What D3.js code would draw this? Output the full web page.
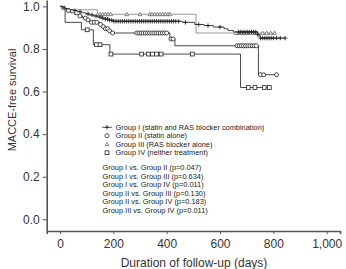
<!DOCTYPE html>
<html>
<head>
<meta charset="utf-8">
<script src="https://cdn.jsdelivr.net/npm/d3@7"></script>
<style>
  body { margin: 0; background: #fff; }
  svg { display: block; font-family: "Liberation Sans", Arial, sans-serif; }
</style>
</head>
<body>
<div id="chart"></div>
<script>
// 軸の目盛り
const xTicks = [0, 200, 400, 600, 800, 1000];
const yTicks = [0, 0.2, 0.4, 0.6, 0.8, 1.0];

// Group I (statin + RAS blocker)
const g1Days = [0, 10, 20, 35, 50, 65, 80, 95, 110, 125, 140, 155, 170, 185, 200, 460, 505, 540, 575, 615, 630, 650, 740, 750, 844];
const g1Surv = [1.0, 0.995, 0.99, 0.985, 0.98, 0.975, 0.97, 0.965, 0.96, 0.955, 0.95, 0.945, 0.94, 0.935, 0.93, 0.925, 0.915, 0.91, 0.903, 0.895, 0.887, 0.88, 0.867, 0.851, 0.851];
const g1Censor = [56, 75, 105, 120, 135, 150, 160, 170, 178, 186, 194, 202, 210, 218, 226, 234, 242, 250, 258, 266, 274, 282, 290, 298, 306, 314, 322, 330, 338, 346, 354, 362, 370, 378, 386, 394, 402, 410, 418, 426, 434, 445, 470, 520, 555, 600, 670, 678, 686, 694, 702, 710, 718, 726, 734, 742, 752, 760, 768, 776, 784, 792, 800, 812, 826, 844];

// Group II (statin alone)
const g2Days = [0, 10, 25, 40, 55, 70, 85, 100, 112, 150, 160, 170, 180, 195, 412, 431, 744, 812];
const g2Surv = [1.0, 0.99, 0.98, 0.97, 0.962, 0.955, 0.945, 0.937, 0.925, 0.915, 0.905, 0.895, 0.885, 0.875, 0.847, 0.815, 0.679, 0.679];
const g2Censor = [31, 75, 95, 105, 118, 128, 138, 152, 162, 170, 178, 186, 197, 288, 296, 304, 312, 320, 328, 336, 344, 352, 360, 368, 376, 384, 392, 400, 416, 424, 664, 672, 680, 688, 696, 704, 712, 720, 728, 736, 752, 764, 812];

// Group III (RAS blocker alone)
const g3Days = [0, 5, 140, 510, 805];
const g3Surv = [1.0, 0.984, 0.963, 0.875, 0.875];
const g3Censor = [150, 160, 170, 180, 190, 250, 300, 337, 345, 355, 365, 375, 385, 395, 405, 412, 660, 670, 680, 690, 700, 712, 725, 738, 760, 775, 790, 805];

// Group IV (neither)
const g4Days = [0, 19, 80, 125, 187, 677, 785];
const g4Surv = [1.0, 0.925, 0.89, 0.82, 0.776, 0.619, 0.619];
const g4Censor = [102, 137, 150, 191, 306, 331, 347, 362, 379, 496, 706, 731, 766, 785];

const legendLabels = [
  'Group I (statin and RAS blocker combination)',
  'Group II (statin alone)',
  'Group III (RAS blocker alone)',
  'Group IV (neither treatment)'
];
const pLabels = [
  'Group I vs. Group II (p=0.047)',
  'Group I vs. Group III (p=0.634)',
  'Group I vs. Group IV (p=0.011)',
  'Group II vs. Group III (p=0.130)',
  'Group II vs. Group IV (p=0.183)',
  'Group III vs. Group IV (p=0.011)'
];

const width = 346, height = 269;

const svg = d3.select('#chart').append('svg')
  .attr('width', width)
  .attr('height', height);

const x = d3.scaleLinear().domain([-50, 1050]).range([46.7, 340]);
const y = d3.scaleLinear().domain([-0.055, 1.03]).range([231, 0]);

const groups = [
  { days: g1Days, surv: g1Surv, censor: g1Censor, shape: 'plus', color: '#333' },
  { days: g2Days, surv: g2Surv, censor: g2Censor, shape: 'circle', color: '#333' },
  { days: g3Days, surv: g3Surv, censor: g3Censor, shape: 'triangle', color: '#8a8a8a' },
  { days: g4Days, surv: g4Surv, censor: g4Censor, shape: 'square', color: '#333' }
];

// 生存曲線（階段）
const line = d3.line()
  .x(d => x(d[0]))
  .y(d => y(d[1]))
  .curve(d3.curveStepAfter);

// 打ち切り時点の生存率
function survAt(g, day) {
  let s = g.surv[0];
  for (let i = 0; i < g.days.length; i++) {
    if (g.days[i] <= day) s = g.surv[i];
  }
  return s;
}

function drawMarker(sel, shape, cx, cy) {
  if (shape === 'plus') {
    sel.append('path')
      .attr('d', `M${cx - 2.2},${cy}H${cx + 2.2}M${cx},${cy - 2.2}V${cy + 2.2}`)
      .attr('stroke', '#222').attr('stroke-width', 0.9).attr('fill', 'none');
  } else if (shape === 'circle') {
    sel.append('circle').attr('cx', cx).attr('cy', cy).attr('r', 2)
      .attr('fill', '#fff').attr('stroke', '#222').attr('stroke-width', 0.8);
  } else if (shape === 'triangle') {
    sel.append('path')
      .attr('d', `M${cx},${cy - 1.9}L${cx + 1.9},${cy + 1.4}L${cx - 1.9},${cy + 1.4}Z`)
      .attr('fill', '#fff').attr('stroke', '#555').attr('stroke-width', 0.7);
  } else {
    sel.append('rect').attr('x', cx - 1.9).attr('y', cy - 1.9)
      .attr('width', 3.8).attr('height', 3.8)
      .attr('fill', '#fff').attr('stroke', '#222').attr('stroke-width', 0.8);
  }
}

// 描画順：III, I, II, IV
[2, 0, 1, 3].forEach(i => {
  const g = groups[i];
  const pts = g.days.map((d, j) => [d, g.surv[j]]);
  svg.append('path')
    .attr('d', line(pts))
    .attr('fill', 'none')
    .attr('stroke', g.color)
    .attr('stroke-width', 0.9);
  const mg = svg.append('g');
  g.censor.forEach(c => drawMarker(mg, g.shape, x(c), y(survAt(g, c))));
});

// Y軸
const yAxis = svg.append('g')
  .attr('transform', `translate(${x(-50)},0)`)
  .call(d3.axisLeft(y).tickValues(yTicks).tickFormat(d3.format('.1f')).tickSize(4).tickSizeOuter(0).tickPadding(3));

// X軸
const xAxis = svg.append('g')
  .attr('transform', `translate(0,${y(-0.055)})`)
  .call(d3.axisBottom(x).tickValues(xTicks).tickFormat(d3.format(',')).tickSize(3).tickSizeOuter(3).tickPadding(5));

[yAxis, xAxis].forEach(a => {
  a.select('.domain').attr('stroke', '#555').attr('stroke-width', 1.6);
  a.selectAll('.tick line').attr('stroke', '#555').attr('stroke-width', 1);
  a.selectAll('.tick text').attr('fill', '#333').style('font-size', '12px');
});

// 軸タイトル
svg.append('text')
  .attr('transform', 'translate(16,100) rotate(-90)')
  .attr('text-anchor', 'middle')
  .attr('fill', '#333')
  .style('font-size', '11px')
  .text('MACCE-free survival');

svg.append('text')
  .attr('x', 194)
  .attr('y', 267)
  .attr('text-anchor', 'middle')
  .attr('fill', '#333')
  .style('font-size', '12px')
  .text('Duration of follow-up (days)');

// 凡例
const legY = [127.3, 135.7, 144.3, 152.7];
const leg = svg.append('g');
groups.forEach((g, i) => {
  if (g.shape === 'plus') {
    leg.append('line').attr('x1', 102).attr('x2', 112)
      .attr('y1', legY[i]).attr('y2', legY[i])
      .attr('stroke', '#333').attr('stroke-width', 0.8);
  }
  drawMarker(leg, g.shape, 107, legY[i]);
  leg.append('text')
    .attr('x', 115.5)
    .attr('y', legY[i])
    .attr('dy', '0.35em')
    .attr('fill', '#222')
    .style('font-size', '7.4px')
    .text(legendLabels[i]);
});

const pY = [167.7, 176.3, 184.7, 193, 201.7, 210];
pLabels.forEach((t, i) => {
  svg.append('text')
    .attr('x', 102.5)
    .attr('y', pY[i])
    .attr('dy', '0.35em')
    .attr('fill', '#222')
    .style('font-size', '7.4px')
    .text(t);
});
</script>
</body>
</html>
